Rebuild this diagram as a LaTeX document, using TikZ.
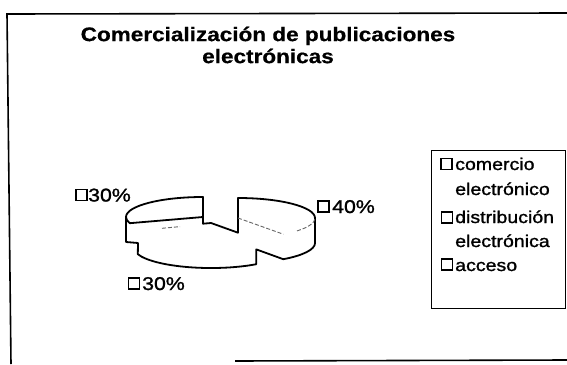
\documentclass[tikz,border=0pt]{standalone}
\usepackage{fontspec}
\setmainfont{Liberation Sans}[FakeStretch=1.15]
\newfontfamily\titfont{Liberation Sans Bold}[FakeStretch=1.15, FakeBold=0.6]
\newfontfamily\txtfont{Liberation Sans}[FakeStretch=1.15, FakeBold=1.3]
\begin{document}
\begin{tikzpicture}[x=1pt,y=-1pt,
  edge/.style={line width=1.8pt, line join=round, line cap=round},
  faint/.style={line width=0.9pt, black!60, dash pattern=on 4pt off 2pt},
  frame/.style={line width=1.6pt},
  sqbox/.style={draw, line width=1.5pt, minimum width=11pt, minimum height=11pt, inner sep=0pt},
  lbl/.style={anchor=base west, inner sep=0pt, font=\txtfont\fontsize{18.5}{20}\selectfont},
  leg/.style={anchor=base west, inner sep=0pt, font=\txtfont\fontsize{17}{18}\selectfont},
  er/.style={x radius=77, y radius=20}]
\useasboundingbox (0,0) rectangle (567,364);
\fill[white] (0,0) rectangle (567,364);
% outer frame
\draw[frame] (567,13) -- (7,14) -- (11,364);
\draw[frame] (235,361) -- (567,360);
% title
\node[font=\titfont\fontsize{19.6}{22}\selectfont, align=center, inner sep=0pt] (title) at (268,45) {Comercialización de publicaciones\\electrónicas};
% pie silhouette
\draw[edge] (203,197)
  arc[start angle=-90, end angle=-180, er]
  -- (126,242) -- (138,243) -- (137.8,254.2)
  arc[start angle=-198, end angle=-306, er]
  -- (256.3,249.4) -- (283.3,259.2)
  arc[start angle=54, end angle=0, er]
  -- (315,218)
  arc[start angle=0, end angle=-90, er]
  -- (238,232.7) -- (211,223) -- (203,223.7) -- cycle;
% inner edge of left slice
\draw[edge] (126,217) arc[start angle=-180, end angle=-198, er] -- (203,217);
% faint edges
\draw[faint] (238,218) -- (283.3,234.2);
\draw[faint] (297,230.9) arc[start angle=40, end angle=0, er];
\draw[faint] (162,228.3) -- (180,226.6);
% data labels
\node[sqbox] (s1) at (81.5,195) {};
\node[lbl] (l1) at (88,201.5) {30\%};
\node[sqbox] (s2) at (323.5,206.5) {};
\node[lbl] (l2) at (332,213) {40\%};
\node[sqbox] (s3) at (134,283.5) {};
\node[lbl] (l3) at (142,290) {30\%};
% legend
\node[draw, line width=1.3pt, minimum width=134pt, minimum height=158pt, anchor=north west, inner sep=0pt] (legend) at (431,150) {};
\node[sqbox] (k1) at (446.5,164) {};
\node[leg] (t1) at (455,170) {comercio};
\node[leg] (t1b) at (455,195) {electrónico};
\node[sqbox] (k2) at (447,217.5) {};
\node[leg] (t2) at (455,223) {distribución};
\node[leg] (t2b) at (455,247) {electrónica};
\node[sqbox] (k3) at (447,264.5) {};
\node[leg] (t3) at (455,271) {acceso};
\end{tikzpicture}
\end{document}
